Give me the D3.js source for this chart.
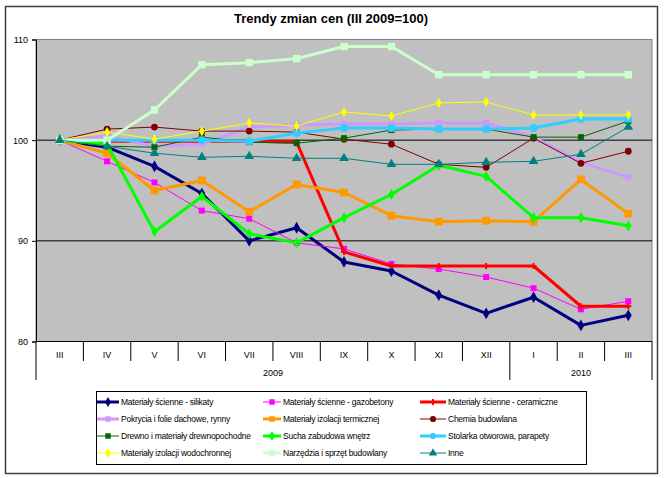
<!DOCTYPE html>
<html><head><meta charset="utf-8">
<script src="https://cdn.jsdelivr.net/npm/d3@7"></script>
<style>body{margin:0;background:#fff}svg{display:block}text{font-family:"Liberation Sans",Arial,sans-serif}</style>
</head><body>
<svg id="c" width="664" height="478"></svg>
<script>
const categories = ["III","IV","V","VI","VII","VIII","IX","X","XI","XII","I","II","III"];
const groups = [{label:"2009", from:0, to:10},{label:"2010", from:10, to:13}];
const yTicks = [80,90,100,110];

const silikaty    = [100,99.3,97.4,94.7,90.0,91.3,87.9,87.0,84.6,82.8,84.4,81.6,82.6];
const gazobetony  = [100,97.9,95.8,93.0,92.2,89.8,89.2,87.7,87.2,86.4,85.3,83.2,84.0];
const ceramiczne  = [100,99.9,99.9,99.9,99.9,99.8,88.9,87.5,87.5,87.5,87.5,83.5,83.5];
const pokrycia    = [100,100.4,99.4,99.6,101.3,101.5,101.6,101.6,101.7,101.7,100.3,97.8,96.3];
const termiczna   = [100,98.7,95.0,96.0,92.9,95.6,94.8,92.5,91.9,92.0,91.9,96.1,92.7];
const chemia      = [100,101.1,101.3,100.9,100.9,100.8,100.1,99.6,97.6,97.3,100.2,97.7,98.9];
const drewno      = [100,99.4,99.3,100.3,99.8,99.7,100.2,101.0,101.1,101.1,100.3,100.3,101.9];
const sucha       = [100,99.6,90.9,94.4,90.7,89.8,92.3,94.6,97.5,96.4,92.3,92.3,91.5];
const stolarka    = [100,100,100,100,99.9,100.7,101.2,101.2,101.1,101.1,101.2,102.1,102.1];
const wodochronna = [100,100.8,100.1,100.9,101.7,101.4,102.8,102.4,103.7,103.8,102.5,102.5,102.5];
const narzedzia   = [100,100,103.0,107.5,107.7,108.1,109.3,109.3,106.5,106.5,106.5,106.5,106.5];
const inne        = [100,99.4,98.7,98.3,98.4,98.2,98.2,97.6,97.6,97.8,97.9,98.6,101.3];

const seriesNames = ["Materiały ścienne - silikaty","Materiały ścienne - gazobetony","Materiały ścienne - ceramiczne",
 "Pokrycia i folie dachowe, rynny","Materiały izolacji termicznej","Chemia budowlana",
 "Drewno i materiały drewnopochodne","Sucha zabudowa wnętrz","Stolarka otworowa, parapety",
 "Materiały izolacji wodochronnej","Narzędzia i sprzęt budowlany","Inne"];
const seriesValues = [silikaty,gazobetony,ceramiczne,pokrycia,termiczna,chemia,drewno,sucha,stolarka,wodochronna,narzedzia,inne];
const seriesColors = ["#000080","#ff00ff","#ff0000","#cc99ff","#ff9900","#800000","#006600","#00ff00","#33ccff","#ffff00","#ccffcc","#008080"];
const seriesWidths = [3,1,3,3,3,1,1,3,3,1,3,1];
const seriesMarkers = ["diamond","square","cross","square","square","circle","square","diamond","circle","diamond","square","triangle"];
const markerSizes = [40,36,20,40,60,36,36,36,50,30,55,40];

const svg = d3.select("#c");
svg.append("rect").attr("x",5.5).attr("y",6.5).attr("width",652).attr("height",467).attr("fill","#fff").attr("stroke","#404040").attr("stroke-width",1.5);

svg.append("text").attr("x",331).attr("y",23).attr("text-anchor","middle").attr("font-size",13).attr("font-weight","bold").text("Trendy zmian cen (III 2009=100)");

const L=36,R=652,T=39.5,B=341.5;
const x = d3.scaleBand().domain(d3.range(categories.length)).range([L,R]);
const y = d3.scaleLinear().domain([80,110]).range([B,T]);

svg.append("rect").attr("x",L).attr("y",T).attr("width",R-L).attr("height",B-T).attr("fill","#c0c0c0").attr("stroke","#808080").attr("stroke-width",1);
svg.append("g").selectAll("line").data([90,100]).join("line")
  .attr("x1",L).attr("x2",R).attr("y1",d=>y(d)).attr("y2",d=>y(d)).attr("stroke","#000").attr("stroke-width",1);

const yAxis = svg.append("g").attr("transform",`translate(${L},0)`).call(d3.axisLeft(y).tickValues(yTicks).tickSize(4).tickPadding(4));
yAxis.select(".domain").attr("stroke","#000");
yAxis.selectAll("text").attr("font-size",9).attr("font-family","Liberation Sans, Arial");

// category axis
const ax = svg.append("g");
ax.append("line").attr("x1",L).attr("x2",R).attr("y1",B).attr("y2",B).attr("stroke","#000");
const bounds = d3.range(categories.length+1).map(i => i<categories.length ? x(i) : x(categories.length-1)+x.bandwidth());
const groupBounds = new Set([0,10,13]);
ax.selectAll("line.sep").data(bounds).join("line").attr("class","sep")
  .attr("x1",d=>d).attr("x2",d=>d).attr("y1",B).attr("y2",(d,i)=>groupBounds.has(i)?380:361).attr("stroke","#000");
ax.selectAll("text.cat").data(categories).join("text").attr("class","cat")
  .attr("x",(d,i)=>x(i)+x.bandwidth()/2).attr("y",358).attr("text-anchor","middle").attr("font-size",9).text(d=>d);
ax.selectAll("text.grp").data(groups).join("text").attr("class","grp")
  .attr("x",d=>(x(d.from)+ (d.to<categories.length?x(d.to):R))/2).attr("y",376).attr("text-anchor","middle").attr("font-size",9).text(d=>d.label);

const symMap = {diamond:d3.symbolDiamond,square:d3.symbolSquare,circle:d3.symbolCircle,triangle:d3.symbolTriangle,cross:d3.symbolCross};
const line = d3.line().x((d,i)=>x(i)+x.bandwidth()/2).y(d=>y(d));
seriesValues.forEach((vals,si)=>{
  const g = svg.append("g");
  g.append("path").datum(vals).attr("d",line).attr("fill","none").attr("stroke",seriesColors[si]).attr("stroke-width",seriesWidths[si]).attr("stroke-linejoin","round");
  g.selectAll("path.m").data(vals).join("path").attr("class","m")
    .attr("transform",(d,i)=>`translate(${x(i)+x.bandwidth()/2},${y(d)})`)
    .attr("d",d3.symbol().type(symMap[seriesMarkers[si]]).size(markerSizes[si]))
    .attr("fill",seriesColors[si]);
});

// legend
const lg = svg.append("g");
lg.append("rect").attr("x",96.5).attr("y",391.5).attr("width",490).attr("height",73).attr("fill","#fff").attr("stroke","#000");
const colX = [97,263,420], rowY = [402,419,436,453], lineLen=[22,18,26];
seriesNames.forEach((n,i)=>{
  const c=i%3, r=Math.floor(i/3);
  const gx = colX[c], gy=rowY[r];
  lg.append("line").attr("x1",gx).attr("x2",gx+lineLen[c]).attr("y1",gy).attr("y2",gy).attr("stroke",seriesColors[i]).attr("stroke-width",seriesWidths[i]);
  lg.append("path").attr("transform",`translate(${gx+lineLen[c]/2},${gy})`).attr("d",d3.symbol().type(symMap[seriesMarkers[i]]).size(Math.min(markerSizes[i],30))).attr("fill",seriesColors[i]);
  lg.append("text").attr("x",gx+lineLen[c]+2).attr("y",gy+3).attr("font-size",8.5).attr("letter-spacing",-0.25).text(n);
});
</script>
</body></html>
